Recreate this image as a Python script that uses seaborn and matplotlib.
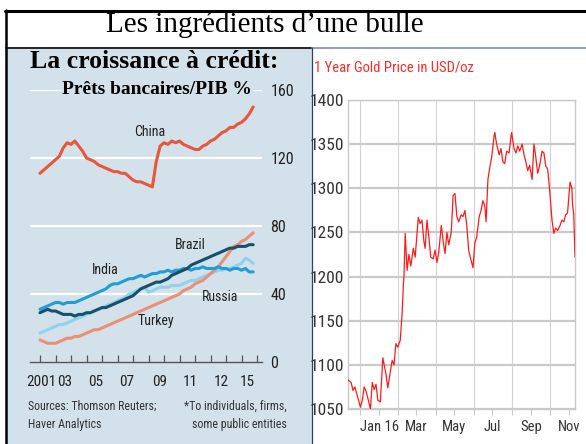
import matplotlib
matplotlib.use("Agg")
import matplotlib.dates as mdates
import matplotlib.pyplot as plt
import pandas as pd
import seaborn as sns
from matplotlib import font_manager
from matplotlib.lines import Line2D
from matplotlib.patches import Rectangle
from matplotlib.ticker import FixedLocator

# ---- left chart: bank loans / GDP, quarterly 2001-2014 ----
QUARTERS = [2001 + q * 0.25 for q in range(56)]
CHINA = [111, 113, 115, 117, 119, 121, 126, 129, 128, 130, 127, 124,
         120, 119, 118, 116, 115, 114, 113, 112, 112, 111, 111, 109,
         107, 106, 106, 105, 104, 103, 118, 127, 129, 128, 130, 129,
         130, 128, 127, 126, 125, 125, 127, 128, 130, 131, 133, 135,
         136, 138, 138, 140, 141, 143, 146, 150]
BRAZIL = [29, 30, 31, 30, 30, 29, 28, 28, 28, 27, 28, 28,
          29, 29, 30, 31, 32, 32, 33, 34, 35, 36, 37, 38,
          39, 41, 43, 44, 45, 46, 47, 47, 48, 49, 51, 52,
          53, 54, 55, 57, 58, 59, 60, 61, 62, 63, 64, 65,
          66, 67, 67, 68, 68, 68, 69, 69]
INDIA = [31, 32, 33, 34, 35, 35, 34, 35, 35, 35, 36, 37,
         38, 39, 40, 41, 42, 43, 45, 46, 46, 47, 48, 49,
         49, 50, 51, 50, 51, 52, 52, 53, 53, 54, 53, 54,
         54, 55, 55, 54, 55, 55, 56, 55, 55, 55, 56, 55,
         55, 54, 55, 55, 54, 55, 53, 53]
RUSSIA = [17, 18, 19, 20, 21, 22, 22, 23, 24, 25, 26, 27,
          28, 29, 30, 31, 32, 33, 34, 35, 36, 37, 38, 40,
          41, 42, 43, 44, 41, 42, 43, 44, 44, 44, 45, 45,
          45, 46, 47, 48, 48, 49, 50, 51, 52, 53, 54, 54,
          55, 55, 56, 57, 58, 61, 60, 58]
TURKEY = [13, 12, 11, 11, 11, 12, 13, 14, 14, 15, 15, 16,
          17, 18, 19, 19, 20, 21, 22, 23, 24, 25, 26, 27,
          28, 29, 30, 31, 32, 33, 34, 35, 36, 37, 38, 39,
          40, 42, 43, 44, 46, 47, 48, 50, 52, 54, 56, 59,
          62, 65, 68, 69, 71, 72, 74, 76]
YEAR_TICKS = list(range(2001, 2016))
YEAR_LABELS = ["2001", "03", "05", "07", "09", "11", "12", "15"]
YEAR_LABEL_POS = [2001.1, 2002.6, 2004.6, 2006.6, 2008.7, 2010.7, 2012.7, 2014.4]
LOAN_TICKS = [0, 40, 80, 120, 160]

# ---- right chart: 1 year gold price ----
GOLD_DATES = [
    "2015-11-12", "2015-11-17", "2015-11-20", "2015-11-23", "2015-11-27",
    "2015-12-02", "2015-12-05", "2015-12-08", "2015-12-11", "2015-12-14",
    "2015-12-18", "2015-12-21", "2015-12-24", "2015-12-27", "2015-12-30",
    "2016-01-03", "2016-01-07", "2016-01-12", "2016-01-15", "2016-01-19",
    "2016-01-22", "2016-01-25", "2016-01-28", "2016-01-31", "2016-02-04",
    "2016-02-07", "2016-02-09", "2016-02-10", "2016-02-12", "2016-02-15",
    "2016-02-18", "2016-02-21", "2016-02-25", "2016-02-28", "2016-03-04",
    "2016-03-07", "2016-03-10", "2016-03-13", "2016-03-15", "2016-03-18",
    "2016-03-21", "2016-03-24", "2016-03-28", "2016-03-31", "2016-04-03",
    "2016-04-06", "2016-04-10", "2016-04-13", "2016-04-16", "2016-04-19",
    "2016-04-22", "2016-04-26", "2016-04-29", "2016-05-02", "2016-05-05",
    "2016-05-08", "2016-05-12", "2016-05-15", "2016-05-18", "2016-05-21",
    "2016-05-24", "2016-05-28", "2016-05-31", "2016-06-03", "2016-06-06",
    "2016-06-10", "2016-06-13", "2016-06-16", "2016-06-19", "2016-06-21",
    "2016-06-24", "2016-06-27", "2016-06-30", "2016-07-04", "2016-07-05",
    "2016-07-08", "2016-07-12", "2016-07-15", "2016-07-18", "2016-07-21",
    "2016-07-24", "2016-07-28", "2016-07-31", "2016-08-01", "2016-08-05",
    "2016-08-08", "2016-08-11", "2016-08-14", "2016-08-18", "2016-08-21",
    "2016-08-24", "2016-08-27", "2016-08-30", "2016-09-03", "2016-09-06",
    "2016-09-09", "2016-09-12", "2016-09-15", "2016-09-19", "2016-09-22",
    "2016-09-25", "2016-09-28", "2016-10-01", "2016-10-05", "2016-10-08",
    "2016-10-11", "2016-10-14", "2016-10-18", "2016-10-21", "2016-10-24",
    "2016-10-27", "2016-10-30", "2016-11-03", "2016-11-06", "2016-11-07",
    "2016-11-09", "2016-11-11",
]
GOLD_PRICES = [
    1083, 1080, 1071, 1075, 1065,
    1052, 1060, 1075, 1070, 1062,
    1050, 1080, 1072, 1078, 1060,
    1058, 1108, 1090, 1074, 1092,
    1105, 1100, 1124, 1120, 1128,
    1158, 1190, 1200, 1249, 1207,
    1225, 1212, 1232, 1222, 1267,
    1260, 1264, 1240, 1232, 1264,
    1245, 1222, 1220, 1230, 1216,
    1228, 1258, 1240, 1226, 1250,
    1236, 1250, 1292, 1294, 1268,
    1262, 1270, 1268, 1275, 1258,
    1230, 1218, 1210, 1238, 1245,
    1268, 1275, 1286, 1280, 1262,
    1310, 1324, 1335, 1360, 1363,
    1350, 1338, 1345, 1330, 1328,
    1342, 1340, 1358, 1363, 1345,
    1340, 1348, 1342, 1350, 1338,
    1330, 1320, 1326, 1310, 1350,
    1335, 1317, 1325, 1342, 1340,
    1325, 1322, 1300, 1264, 1249,
    1255, 1252, 1258, 1264, 1262,
    1270, 1272, 1307, 1300, 1282,
    1270, 1222,
]
GOLD_TICKS = [1050, 1100, 1150, 1200, 1250, 1300, 1350, 1400]
MONTH_LABELS = ["Jan 16", "Mar", "May", "Jul", "Sep", "Nov"]

W, H = 586, 444
SERIF = ["Liberation Serif", "DejaVu Serif"]


def pick_narrow():
    # condensed sans if the system has one, else Liberation Sans (Arial metrics)
    names = {f.name for f in font_manager.fontManager.ttflist}
    for name in ["Liberation Sans Narrow", "DejaVu Sans Condensed", "Roboto Condensed"]:
        if name in names:
            return [name, "DejaVu Sans"], "normal"
    condensed = [f for f in font_manager.fontManager.ttflist
                 if f.name == "DejaVu Sans" and f.stretch in ("condensed", "semi-condensed")]
    if condensed:
        return ["DejaVu Sans"], "condensed"
    return ["Liberation Sans", "DejaVu Sans"], "normal"


NARROW, STRETCH = pick_narrow()


def fx(px):
    return px / W


def fy(py):
    return 1 - py / H


def main() -> None:
    sns.set_theme(style="white")
    plt.rcParams["font.family"] = NARROW
    plt.rcParams["font.stretch"] = STRETCH
    plt.rcParams["text.color"] = "black"

    fig = plt.figure(figsize=(W / 100, H / 100), dpi=100)
    fig.patch.set_facecolor("white")

    # panel background and frame
    fig.add_artist(Rectangle((fx(7), fy(444)), fx(305), fy(49) - fy(444),
                             transform=fig.transFigure, facecolor="#d3e1ea", edgecolor="none", zorder=0))
    frame = dict(transform=fig.transFigure, zorder=5)
    fig.add_artist(Line2D([fx(5), fx(586)], [fy(11.5), fy(11.5)], color="black", lw=2.2, **frame))
    fig.add_artist(Line2D([fx(6), fx(6)], [fy(10.5), fy(444)], color="black", lw=1.8, **frame))
    fig.add_artist(Line2D([fx(6), fx(312)], [fy(48), fy(48)], color="black", lw=1.2, **frame))
    fig.add_artist(Line2D([fx(312), fx(586)], [fy(48), fy(48)], color="#7d8dbd", lw=1.2, **frame))
    fig.add_artist(Line2D([fx(312), fx(312)], [fy(48), fy(444)], color="#2d3f72", lw=0.9, **frame))

    fig.text(fx(265), fy(25), "Les ingrédients d\u2019une bulle", family=SERIF, fontsize=21,
             ha="center", va="center", color="black")

    # ---------------- left: loans / GDP ----------------
    loans = pd.DataFrame({
        "year": QUARTERS * 5,
        "value": RUSSIA + TURKEY + INDIA + BRAZIL + CHINA,
        "country": (["Russia"] * 56 + ["Turkey"] * 56 + ["India"] * 56
                    + ["Brazil"] * 56 + ["China"] * 56),
    })
    palette = {"Russia": "#8fd2f0", "Turkey": "#eb8f76", "India": "#1f9dd8",
               "Brazil": "#17506b", "China": "#e8563c"}

    ax = fig.add_axes([fx(30), fy(362), fx(262) - fx(30), fy(90) - fy(362)])
    ax.set_facecolor("none")
    sns.lineplot(data=loans, x="year", y="value", hue="country", palette=palette,
                 linewidth=2.2, legend=False, ax=ax, zorder=3)
    ax.set_xlim(2000.355, 2015.32)
    ax.set_ylim(0, 160)
    ax.set_xlabel("")
    ax.set_ylabel("")
    for s in ["top", "left", "right"]:
        ax.spines[s].set_visible(False)
    ax.spines["bottom"].set_color("#555555")
    ax.spines["bottom"].set_linewidth(1.0)
    ax.yaxis.tick_right()
    ax.set_yticks(LOAN_TICKS)
    ax.set_yticklabels([str(t) for t in LOAN_TICKS])
    ax.tick_params(axis="y", length=0, pad=6, labelsize=11.5, labelcolor="#222222")
    for t in LOAN_TICKS[1:]:
        ax.axhline(t, color="white", lw=1.6, zorder=1)
    ax.xaxis.set_minor_locator(FixedLocator(YEAR_TICKS))
    ax.set_xticks(YEAR_LABEL_POS)
    ax.set_xticklabels(YEAR_LABELS)
    ax.tick_params(axis="x", which="major", length=0, pad=9, labelsize=11, labelcolor="#222222")
    ax.tick_params(axis="x", which="minor", direction="in", length=5, width=0.9,
                   color="#555555", bottom=True)

    label_kw = dict(fontsize=10, color="#222222", ha="center", va="center", zorder=4)
    ax.text(2008.1, 135, "China", **label_kw)
    ax.text(2010.7, 69, "Brazil", **label_kw)
    ax.text(2005.2, 54, "India", **label_kw)
    ax.text(2012.6, 38, "Russia", **label_kw)
    ax.text(2008.5, 24, "Turkey", **label_kw)

    fig.text(fx(30), fy(62), "La croissance à crédit:", family=SERIF, fontweight="bold",
             fontsize=18.5, ha="left", va="center", color="black", zorder=6)
    fig.text(fx(157), fy(89), "Prêts bancaires/PIB %", family=SERIF, fontweight="bold",
             fontsize=14, ha="center", va="center", color="black", zorder=6,
             bbox=dict(facecolor="#d3e1ea", edgecolor="none", pad=0.5))

    fig.text(fx(28), fy(415), "Sources: Thomson Reuters;\nHaver Analytics", fontsize=8.6,
             color="#333333", ha="left", va="center", linespacing=1.5)
    fig.text(fx(287), fy(415), "*To individuals, firms,\nsome public entities", fontsize=8.6,
             color="#333333", ha="right", va="center", linespacing=1.5, multialignment="right")

    # ---------------- right: gold price ----------------
    gold = pd.DataFrame({"date": pd.to_datetime(GOLD_DATES), "price": GOLD_PRICES})
    gx = fig.add_axes([fx(348), fy(409), fx(575) - fx(348), fy(100) - fy(409)])
    gx.set_facecolor("white")
    sns.lineplot(data=gold, x="date", y="price", color="#ff1a1a", linewidth=0.9, ax=gx, zorder=3)
    gx.set_xlim(pd.Timestamp("2015-11-12"), pd.Timestamp("2016-11-11"))
    gx.set_ylim(1050, 1400)
    gx.set_xlabel("")
    gx.set_ylabel("")
    gx.set_yticks(GOLD_TICKS)
    gx.yaxis.grid(True, color="#c9c9c9", lw=1.6)
    gx.xaxis.set_minor_locator(mdates.MonthLocator())
    gx.xaxis.grid(True, which="minor", color="#d2d2d2", lw=0.8)
    gx.xaxis.set_major_locator(mdates.MonthLocator(bymonth=[1, 3, 5, 7, 9, 11]))
    gx.set_xticklabels(MONTH_LABELS)
    gx.tick_params(axis="x", which="both", length=4, width=0.8, color="#c9c9c9", pad=4,
                   labelsize=10.5, labelcolor="#333333", bottom=True)
    gx.tick_params(axis="y", length=0, pad=3, labelsize=12.5, labelcolor="#333333")
    for s in gx.spines.values():
        s.set_color("#c9c9c9")
        s.set_linewidth(1.0)
    gx.set_axisbelow(True)

    fig.text(fx(314), fy(67), "1 Year Gold Price in USD/oz", color="#ff2a2a", fontsize=10.5,
             ha="left", va="center")

    fig.savefig("out.png", dpi=100)
    plt.close(fig)


if __name__ == "__main__":
    main()
